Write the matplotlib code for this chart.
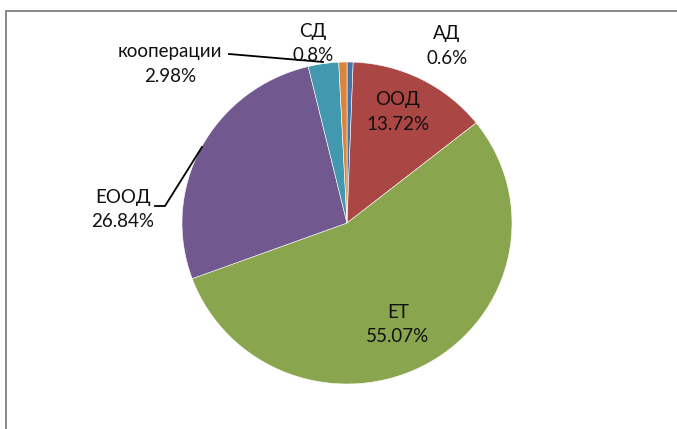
import matplotlib.pyplot as plt
from matplotlib.patches import Rectangle

# data, clockwise from 12 o'clock
labels = ['АД', 'ООД', 'ЕТ', 'ЕООД', 'кооперации', 'СД']
shares = [0.6, 13.72, 55.07, 26.84, 2.98, 0.8]
pct_text = ['0.6%', '13.72%', '55.07%', '26.84%', '2.98%', '0.8%']
colors = ['#4572A7', '#AA4643', '#89A54E', '#71588F', '#4198AF', '#DB843D']

W, H = 677, 429
plt.rcParams['font.family'] = ['Lato', 'DejaVu Sans']

fig = plt.figure(figsize=(W / 100, H / 100), dpi=100)
ax = fig.add_axes([0, 0, 1, 1])

# pie is slightly squashed vertically in the original (330 wide, 322 tall)
r = 165
s = 165 / 161.0


def Y(py):
    # pixel row -> data y
    return (H - py) * s


cx, cy = 347, Y(223)
ax.pie(shares, colors=colors, startangle=90, counterclock=False,
       center=(cx, cy), radius=r, frame=True,
       wedgeprops=dict(edgecolor='white', linewidth=0.4))

ax.set_xlim(0, W)
ax.set_ylim(0, H * s)
ax.set_aspect('auto')
ax.axis('off')

# outer frame (runs off the right and bottom edges)
ax.add_patch(Rectangle((6, Y(H + 10)), W + 10, Y(11) - Y(H + 10), fill=False,
                       edgecolor='#888888', linewidth=1.4))

# label positions in pixels (x, y of the name line)
label_pos = [(447, 34), (398, 100), (398, 312), (123, 197), (170, 52), (313, 31)]
for name, pt, (px, py) in zip(labels, pct_text, label_pos):
    ax.text(px, Y(py), name, ha='center', va='center', fontsize=13.5, color='#111111')
    ax.text(px, Y(py + 24.5), pt, ha='center', va='center', fontsize=13.5, color='#111111')

# leader lines
ax.plot([229, 323], [Y(54), Y(62)], color='black', lw=1.3)
ax.plot([155, 165, 202], [Y(206), Y(206), Y(147)], color='black', lw=1.3)

fig.savefig('out.png', dpi=100)
